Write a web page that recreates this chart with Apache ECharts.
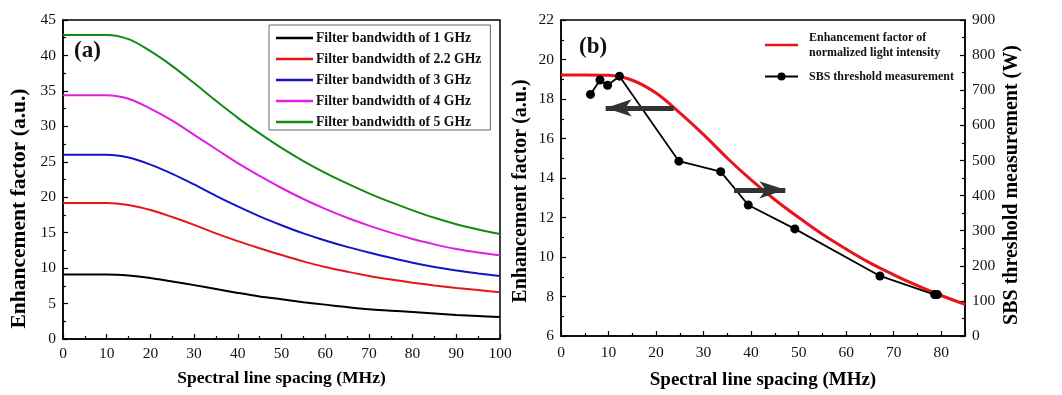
<!DOCTYPE html>
<html>
<head>
<meta charset="utf-8">
<script src="https://cdn.jsdelivr.net/npm/echarts@6/dist/echarts.min.js"></script>
<style>
  html, body { margin: 0; padding: 0; background: #fff; }
  #chart { width: 1062px; height: 395px; }
</style>
</head>
<body>
<div id="chart"></div>
<script>
// panel (a): spectral line spacing (MHz)
const spacingA = [0, 5, 10, 15, 20, 25, 30, 35, 40, 45, 50, 55, 60, 65, 70, 75, 80, 85, 90, 95, 100]
const bw1GHz = [9.1, 9.1, 9.1, 8.95, 8.6, 8.1, 7.6, 7.05, 6.5, 6.0, 5.6, 5.2, 4.85, 4.5, 4.2, 4.0, 3.8, 3.6, 3.4, 3.25, 3.1]
const bw22GHz = [19.2, 19.2, 19.2, 18.9, 18.2, 17.2, 16.1, 14.9, 13.8, 12.8, 11.85, 10.95, 10.15, 9.5, 8.9, 8.4, 7.95, 7.55, 7.2, 6.9, 6.6]
const bw3GHz = [26.0, 26.0, 26.0, 25.6, 24.6, 23.3, 21.8, 20.2, 18.7, 17.3, 16.05, 14.9, 13.9, 13.0, 12.2, 11.45, 10.75, 10.15, 9.65, 9.25, 8.9]
const bw4GHz = [34.4, 34.4, 34.4, 33.9, 32.5, 30.8, 28.8, 26.8, 24.8, 23.0, 21.3, 19.75, 18.35, 17.1, 16.0, 15.0, 14.1, 13.35, 12.7, 12.2, 11.8]
const bw5GHz = [42.9, 42.9, 42.9, 42.3, 40.6, 38.5, 36.1, 33.6, 31.2, 29.0, 26.95, 25.1, 23.45, 21.95, 20.55, 19.3, 18.15, 17.1, 16.2, 15.45, 14.8]
const namesA = [
	'Filter bandwidth of 1 GHz',
	'Filter bandwidth of 2.2 GHz',
	'Filter bandwidth of 3 GHz',
	'Filter bandwidth of 4 GHz',
	'Filter bandwidth of 5 GHz',
]
const colorsA = ['#000000', '#e8141b', '#1414c8', '#e01ee0', '#138a13']

// panel (b)
const spacingB = [0, 5, 10, 15, 20, 25, 30, 35, 40, 45, 50, 55, 60, 65, 70, 75, 80, 85]
const enhanceB = [19.22, 19.22, 19.2, 18.95, 18.3, 17.3, 16.2, 15.0, 13.9, 12.9, 12.0, 11.15, 10.4, 9.7, 9.1, 8.55, 8.05, 7.6]
const sbsSpacing = [6.2, 8.2, 9.8, 12.3, 24.8, 33.6, 39.4, 49.2, 67.1, 78.6, 79.2]
const sbsThreshold = [688, 729, 714, 740, 498, 468, 373, 305, 171, 118, 118]
const nameB1 = 'Enhancement factor of\nnormalized light intensity'
const nameB2 = 'SBS threshold measurement'

// arrows (data coordinates of panel b, left axis)
const arrowLeft = [[23.7, 17.55], [9.4, 17.55]]
const arrowRight = [[36.4, 13.4], [47.2, 13.4]]

const zip = (xs, ys) => xs.map((x, i) => [x, ys[i]])

const FONT = 'Liberation Serif'
const LINE_ICON = 'path://M0,3.6L40,3.6L40,6.4L0,6.4Z'
const tickLabel = { color: '#111', fontFamily: FONT, fontSize: 15.5, margin: 7 }
const axisLine = { lineStyle: { color: '#000', width: 1.5 } }
const nameStyle = { color: '#000', fontFamily: FONT, fontWeight: 'bold', fontSize: 17.5 }
const majorTick = { inside: true, length: 5, lineStyle: { color: '#000', width: 1.2 } }
const minorTick = { show: true, splitNumber: 2, length: 3, lineStyle: { color: '#000', width: 1.2 } }

const myChart = echarts.init(document.getElementById('chart'))

const seriesA = [bw1GHz, bw22GHz, bw3GHz, bw4GHz, bw5GHz].map((vals, i) => ({
	name: namesA[i],
	type: 'line',
	xAxisIndex: 0,
	yAxisIndex: 0,
	data: zip(spacingA, vals),
	smooth: 0.35,
	symbol: 'none',
	lineStyle: { color: colorsA[i], width: 2 },
	itemStyle: { color: colorsA[i] },
	z: 3,
}))

const option = {
	backgroundColor: '#fff',
	animation: false,
	grid: [
		{ left: 63, top: 20, width: 437, height: 319, show: true, borderColor: '#000', borderWidth: 1.5 },
		{ left: 561, top: 20, width: 404, height: 321, show: true, borderColor: '#000', borderWidth: 1.5 },
	],
	legend: [
		{
			data: namesA.map((n) => ({ name: n, icon: LINE_ICON })),
			orient: 'vertical',
			left: 269,
			top: 25,
			padding: [6, 9, 1, 7],
			borderColor: '#666',
			borderWidth: 1,
			itemWidth: 37,
			itemHeight: 10,
			itemGap: 7,
			textStyle: { fontFamily: FONT, fontWeight: 'bold', fontSize: 13.7, color: '#111', padding: [0, 0, 0, -2] },
		},
		{
			data: [{ name: nameB1, icon: LINE_ICON }, { name: nameB2 }],
			orient: 'vertical',
			left: 759,
			top: 25,
			itemWidth: 33,
			itemHeight: 10,
			itemGap: 9,
			textStyle: { fontFamily: FONT, fontWeight: 'bold', fontSize: 12, color: '#111', lineHeight: 15, padding: [0, 0, 0, 6] },
		},
	],
	xAxis: [
		{
			gridIndex: 0,
			type: 'value',
			min: 0,
			max: 100,
			interval: 10,
			name: 'Spectral line spacing (MHz)',
			nameLocation: 'middle',
			nameGap: 30,
			nameTextStyle: nameStyle,
			axisLine: axisLine,
			axisTick: majorTick,
			minorTick: minorTick,
			axisLabel: tickLabel,
			splitLine: { show: false },
		},
		{
			gridIndex: 1,
			type: 'value',
			min: 0,
			max: 85,
			interval: 10,
			name: 'Spectral line spacing (MHz)',
			nameLocation: 'middle',
			nameGap: 35,
			nameTextStyle: Object.assign({}, nameStyle, { fontSize: 19 }),
			axisLine: axisLine,
			axisTick: majorTick,
			minorTick: minorTick,
			axisLabel: Object.assign({}, tickLabel, { showMaxLabel: false, margin: 9 }),
			splitLine: { show: false },
		},
	],
	yAxis: [
		{
			gridIndex: 0,
			type: 'value',
			min: 0,
			max: 45,
			interval: 5,
			name: 'Enhancement factor (a.u.)',
			nameLocation: 'middle',
			nameGap: 33,
			// 文字整体往下挪一点
			nameTextStyle: Object.assign({}, nameStyle, { fontSize: 21.5, padding: [0, 58, 0, 0] }),
			axisLine: axisLine,
			axisTick: majorTick,
			minorTick: minorTick,
			axisLabel: tickLabel,
			splitLine: { show: false },
		},
		{
			gridIndex: 1,
			type: 'value',
			min: 6,
			max: 22,
			interval: 2,
			name: 'Enhancement factor (a.u.)',
			nameLocation: 'middle',
			nameGap: 30,
			nameTextStyle: Object.assign({}, nameStyle, { fontSize: 20, padding: [0, 26, 0, 0] }),
			axisLine: axisLine,
			axisTick: majorTick,
			minorTick: minorTick,
			axisLabel: tickLabel,
			splitLine: { show: false },
		},
		{
			gridIndex: 1,
			type: 'value',
			position: 'right',
			min: 0,
			max: 900,
			interval: 100,
			name: 'SBS threshold measurement (W)',
			nameLocation: 'middle',
			nameGap: 37,
			nameRotate: 90,
			nameTextStyle: Object.assign({}, nameStyle, { fontSize: 20, padding: [0, 14, 0, 0] }),
			axisLine: axisLine,
			axisTick: majorTick,
			minorTick: minorTick,
			axisLabel: tickLabel,
			splitLine: { show: false },
		},
	],
	graphic: [
		{ type: 'text', left: 74, top: 40, style: { text: '(a)', font: 'bold 23px "Liberation Serif"', fill: '#111' } },
		{ type: 'text', left: 579, top: 36, style: { text: '(b)', font: 'bold 23px "Liberation Serif"', fill: '#111' } },
	],
	series: seriesA.concat([
		{
			name: nameB1,
			type: 'line',
			xAxisIndex: 1,
			yAxisIndex: 1,
			data: zip(spacingB, enhanceB),
			smooth: 0.35,
			symbol: 'none',
			lineStyle: { color: '#e8141b', width: 3 },
			itemStyle: { color: '#e8141b' },
			z: 3,
			markLine: {
				silent: true,
				symbol: ['none', 'arrow'],
				symbolSize: [13, 26],
				label: { show: false },
				lineStyle: { color: '#333', width: 5, type: 'solid' },
				data: [
					[{ coord: arrowLeft[0] }, { coord: arrowLeft[1] }],
					[{ coord: arrowRight[0] }, { coord: arrowRight[1] }],
				],
			},
		},
		{
			name: nameB2,
			type: 'line',
			xAxisIndex: 1,
			yAxisIndex: 2,
			data: zip(sbsSpacing, sbsThreshold),
			symbol: 'circle',
			symbolSize: 9,
			lineStyle: { color: '#000', width: 1.8 },
			itemStyle: { color: '#000' },
			z: 4,
		},
	]),
}

myChart.setOption(option)
window.addEventListener('resize', () => {
	myChart.resize()
})
</script>
</body>
</html>
